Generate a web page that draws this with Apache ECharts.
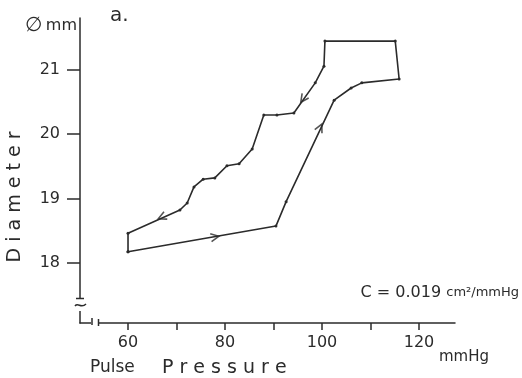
<!DOCTYPE html>
<html><head><meta charset="utf-8">
<script src="https://cdn.jsdelivr.net/npm/echarts@6/dist/echarts.min.js"></script>
<style>html,body{margin:0;padding:0;background:#fff}#c{width:522px;height:378px}</style>
</head><body><div id="c"></div>
<script>
// Hysteresis loop: pulse pressure (mmHg) vs diameter (mm), in drawing order
const pressure = [60.0, 90.5, 92.6, 102.5, 106.0, 108.2, 115.9, 115.1, 100.6, 100.4, 98.6, 94.2, 90.7, 88.0, 85.6, 82.9, 80.4, 77.9, 75.5, 73.6, 72.2, 70.7, 60.0, 60.0];
const diameter = [18.17, 18.57, 18.95, 20.53, 20.72, 20.80, 20.86, 21.45, 21.45, 21.06, 20.80, 20.33, 20.30, 20.30, 19.77, 19.54, 19.51, 19.32, 19.30, 19.18, 18.93, 18.82, 18.46, 18.17];
// Direction arrows placed on the loop
const arrowPressure = [77.9, 99.6, 96.1, 67.0];
const arrowDiameter = [18.40, 20.10, 20.55, 18.71];
// Axis ticks / labels
const xTicks = [60, 70, 80, 90, 100, 110, 120];
const xLabels = [60, 80, 100, 120];
const yTicks = [18, 19, 20, 21];
const yLabels = [18, 19, 20, 21];

const ink = '#2b2b2b';
const font = '"DejaVu Sans", "Noto Sans", sans-serif';
const chart = echarts.init(document.getElementById('c'), null, {renderer: 'canvas'});

const loop = pressure.map((p, i) => [p, diameter[i]]);
const arrows = arrowPressure.map((p, i) => [p, arrowDiameter[i]]);

const option = {
  backgroundColor: '#fff',
  animation: false,
  grid: {left: 80, right: 67, top: 18, bottom: 55},
  xAxis: {
    type: 'value', min: 50.1, max: 127.42,
    axisLine: {show: true, lineStyle: {color: ink, width: 1.5}},
    axisTick: {show: true, customValues: xTicks, length: 7, lineStyle: {color: ink, width: 1.5}},
    axisLabel: {show: true, customValues: xLabels, margin: 12, fontSize: 16, color: ink, fontFamily: font},
    splitLine: {show: false}
  },
  yAxis: {
    type: 'value', min: 17.061, max: 21.81,
    axisLine: {show: true, lineStyle: {color: ink, width: 1.5}},
    axisTick: {show: true, customValues: yTicks, length: 13, lineStyle: {color: ink, width: 1.5}},
    axisLabel: {show: true, customValues: yLabels, margin: 20, fontSize: 16, color: ink, fontFamily: font, padding: [0, 0, 14, 0]},
    splitLine: {show: false}
  },
  series: [
    {
      type: 'line', data: loop, symbol: 'circle', symbolSize: 3, showSymbol: true,
      lineStyle: {color: ink, width: 1.6}, itemStyle: {color: ink}, z: 3
    },
    {
      type: 'scatter', data: arrows, symbol: 'path://M0,0L10,5L0,10', symbolSize: 8,
      itemStyle: {color: 'rgba(0,0,0,0)', borderColor: ink, borderWidth: 1.6}, z: 4
    }
  ],
  graphic: [
    // axis break marks
    {type: 'rect', shape: {x: 72, y: 299, width: 16, height: 12}, style: {fill: '#fff'}, z: 100},
    {type: 'line', shape: {x1: 76, y1: 298.5, x2: 84, y2: 298.5}, style: {stroke: ink, lineWidth: 1.5}, z: 101},
    {type: 'bezierCurve', shape: {x1: 75, y1: 306, cpx1: 78, cpy1: 302, cpx2: 81, cpy2: 309, x2: 86, y2: 304}, style: {stroke: ink, lineWidth: 1.5, fill: null}, z: 101},
    {type: 'rect', shape: {x: 91, y: 320, width: 7, height: 6}, style: {fill: '#fff'}, z: 100},
    {type: 'line', shape: {x1: 92, y1: 318, x2: 92, y2: 325}, style: {stroke: ink, lineWidth: 1.5}, z: 101},
    {type: 'line', shape: {x1: 98.5, y1: 319, x2: 98.5, y2: 326}, style: {stroke: ink, lineWidth: 1.5}, z: 101},
    // texts
    {type: 'text', x: 110, y: 16, style: {text: 'a.', fontSize: 20, fontFamily: font, fill: ink, align: 'left', verticalAlign: 'middle'}, z: 101},
    {type: 'text', x: 77, y: 26, style: {
      text: '{s|∅} {m|mm}', align: 'right', verticalAlign: 'middle', fill: ink,
      rich: {s: {fontSize: 20, fontFamily: font, fill: ink}, m: {fontSize: 16, fontFamily: font, fill: ink}}
    }, z: 101},
    {type: 'text', x: 15, y: 197, rotation: Math.PI / 2, style: {text: 'D i a m e t e r', fontSize: 19, fontFamily: font, fill: ink, align: 'center', verticalAlign: 'middle'}, z: 101},
    {type: 'text', x: 90, y: 368, style: {text: 'Pulse', fontSize: 17, fontFamily: font, fill: ink, align: 'left', verticalAlign: 'middle'}, z: 101},
    {type: 'text', x: 162, y: 368, style: {text: 'P r e s s u r e', fontSize: 19, fontFamily: font, fill: ink, align: 'left', verticalAlign: 'middle'}, z: 101},
    {type: 'text', x: 439, y: 357, style: {text: 'mmHg', fontSize: 15, fontFamily: font, fill: ink, align: 'left', verticalAlign: 'middle'}, z: 101},
    {type: 'text', x: 519, y: 293, style: {
      text: '{a|C = 0.019 }{b|cm²/mmHg}', align: 'right', verticalAlign: 'middle', fill: ink,
      rich: {a: {fontSize: 16, fontFamily: font, fill: ink}, b: {fontSize: 13, fontFamily: font, fill: ink}}
    }, z: 101}
  ]
};
chart.setOption(option);

// orient arrows along the loop segment they sit on (pixel space)
const px = loop.map(d => chart.convertToPixel({seriesIndex: 0}, d));
const arrowData = arrows.map(a => {
  const p = chart.convertToPixel({seriesIndex: 0}, a);
  let best = 0, bestD = Infinity;
  for (let i = 0; i < px.length - 1; i++) {
    const [x1, y1] = px[i], [x2, y2] = px[i + 1];
    const dx = x2 - x1, dy = y2 - y1, L2 = dx * dx + dy * dy || 1;
    let t = ((p[0] - x1) * dx + (p[1] - y1) * dy) / L2;
    t = Math.max(0, Math.min(1, t));
    const qx = x1 + t * dx - p[0], qy = y1 + t * dy - p[1];
    const d = qx * qx + qy * qy;
    if (d < bestD) { bestD = d; best = i; }
  }
  const dx = px[best + 1][0] - px[best][0], dy = px[best + 1][1] - px[best][1];
  return {value: a, symbolRotate: Math.atan2(-dy, dx) * 180 / Math.PI};
});
chart.setOption({series: [{}, {data: arrowData}]});
</script>
</body></html>
